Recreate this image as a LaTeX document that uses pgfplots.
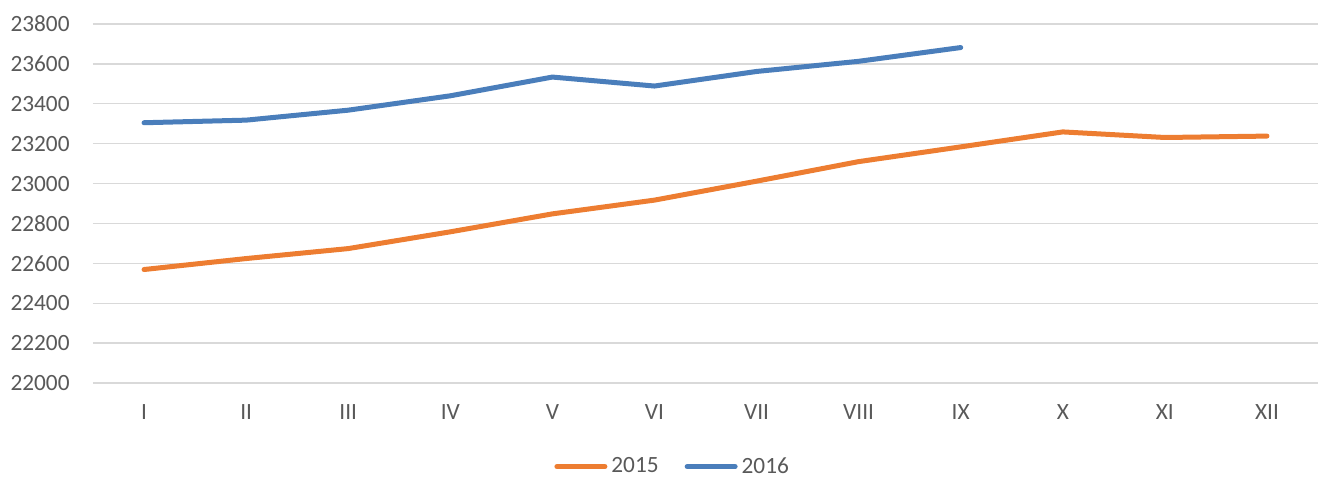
\documentclass[border=0pt]{standalone}
\usepackage{fontspec}
\setmainfont{Carlito}
\usepackage{pgfplots}
\pgfplotsset{compat=1.18}
\definecolor{cOrange}{HTML}{ED7D31}
\definecolor{cBlue}{HTML}{4A7EBB}
\definecolor{cGrid}{HTML}{D9D9D9}
\definecolor{cText}{HTML}{595959}
\begin{document}
\begin{tikzpicture}
\path[use as bounding box] (0,0) rectangle (661pt,239.5pt);
\begin{axis}[
  at={(46.5pt,48pt)}, anchor=south west,
  scale only axis, width=612.5pt, height=179.5pt,
  xmin=-0.5, xmax=11.5, ymin=22000, ymax=23800,
  xtick={0,...,11},
  xticklabels={I,II,III,IV,V,VI,VII,VIII,IX,X,XI,XII},
  ytick={22000,22200,...,23800},
  scaled y ticks=false,
  axis line style={draw=none},
  major tick length=0pt,
  ymajorgrids, grid style={cGrid, line width=0.7pt},
  tick label style={font=\fontsize{11.65}{14}\selectfont, text=cText},
  yticklabel style={anchor=east, inner sep=0pt, xshift=-11.5pt},
  xticklabel style={anchor=north, inner sep=0pt, yshift=-10.75pt},
  /pgf/number format/1000 sep={},
  /pgf/number format/fixed,
  /pgf/number format/assume math mode=true,
  legend style={at={(0.474,-0.233)}, anchor=center, draw=none, fill=none,
    font=\fontsize{11.65}{14}\selectfont, nodes={text=cText},
    legend columns=2,
    /tikz/every even column/.append style={column sep=11pt}},
  legend image code/.code={\draw[#1, line width=2.5pt, line cap=round] (1.25pt,0pt) -- (25.25pt,0pt);},
  clip=false,
]
\addplot[cOrange, line width=2.5pt, line cap=round, line join=round] coordinates {
(0,22569) (1,22624) (2,22674) (3,22758) (4,22848) (5,22917) (6,23012) (7,23110) (8,23184) (9,23259) (10,23231) (11,23238)};
\addlegendentry{2015}
\addplot[cBlue, line width=2.5pt, line cap=round, line join=round] coordinates {
(0,23305) (1,23318) (2,23368) (3,23440) (4,23534) (5,23489) (6,23562) (7,23613) (8,23682)};
\addlegendentry{2016}
\end{axis}
\end{tikzpicture}
\end{document}
